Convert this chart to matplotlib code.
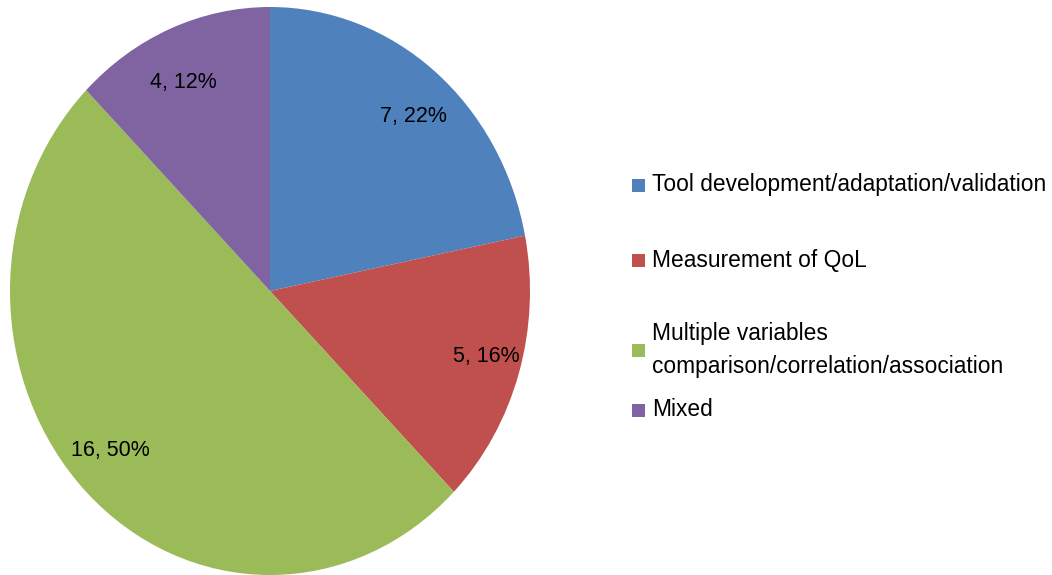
import numpy as np
import matplotlib.pyplot as plt
from matplotlib.patches import Rectangle

# study categories and counts
categories = [
    "Tool development/adaptation/validation",
    "Measurement of QoL",
    "Multiple variables\ncomparison/correlation/association",
    "Mixed",
]
counts = [7, 5, 16, 4]
colors = ["#4F81BD", "#C0504D", "#9BBB59", "#8064A2"]

plt.rcParams["font.family"] = ["Liberation Sans", "DejaVu Sans"]

W, H = 1052, 575
fig = plt.figure(figsize=(W / 100, H / 100), dpi=100)
renderer = fig.canvas.get_renderer()

# the pie is drawn a bit taller than wide
ax = fig.add_axes([10 / W, 0, 520 / W, 568 / H])
wedges, _ = ax.pie(counts, colors=colors, startangle=90, counterclock=False,
                   radius=1, wedgeprops=dict(linewidth=0))
ax.set_aspect("auto")
ax.set_xlim(-1, 1)
ax.set_ylim(-1, 1)
ax.axis("off")

# data labels sit on a circle of fixed pixel radius around the centre
total = sum(counts)
r_px = 226
for w, n in zip(wedges, counts):
    mid = np.radians((w.theta1 + w.theta2) / 2)
    ax.text(r_px / 260 * np.cos(mid), r_px / 284 * np.sin(mid),
            f"{n}, {round(100 * n / total)}%",
            ha="center", va="center", fontsize=15.5, color="black")

# legend, laid out by hand; font shrunk so the longest line fits
probe = fig.text(0, 0, categories[0], fontsize=17)
width = probe.get_window_extent(renderer).width
probe.remove()
legend_size = 17 * 395 / width

ys = [185, 260, 350, 410]
for cat, col, y in zip(categories, colors, ys):
    fig.add_artist(Rectangle((632 / W, 1 - (y + 6.5) / H), 13 / W, 13 / H,
                             transform=fig.transFigure, color=col, linewidth=0))
    fig.text(652 / W, 1 - y / H, cat, ha="left", va="center",
             fontsize=legend_size, linespacing=1.55)

fig.savefig("out.png", dpi=100)
